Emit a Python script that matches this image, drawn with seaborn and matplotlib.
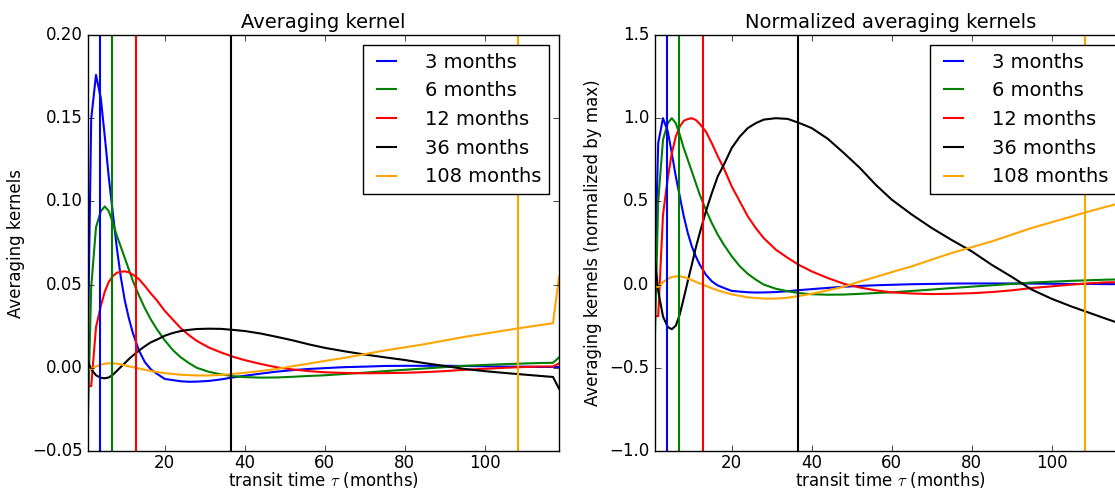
"""Averaging kernels for several averaging periods, raw and normalized by max."""

import matplotlib

matplotlib.use("Agg")
import matplotlib.pyplot as plt
import numpy as np
import pandas as pd
import seaborn as sns

plt.style.use("classic")

# transit time grid (months)
tau = [0.8, 1.6, 2.8, 4.0, 5.0, 6.0, 7.0, 8.0, 9.0, 10.0, 11.0, 12.0, 13.5, 15.0,
       16.5, 18.0, 20.0, 22.0, 24.0, 26.0, 28.0, 31.0, 34.0, 37.0, 40.0, 44.0,
       48.0, 52.0, 56.0, 60.0, 65.0, 70.0, 75.0, 80.0, 85.0, 90.0, 95.0, 100.0,
       105.0, 110.0, 114.0, 117.1, 118.6]

periods = ["3 months", "6 months", "12 months", "36 months", "108 months"]
colors = ["blue", "green", "red", "black", "orange"]
# where each period's vertical marker sits on the tau axis
marker_tau = [3.75, 6.75, 12.75, 36.6, 108.25]

k_3 = [0.0176, 0.1496, 0.176, 0.162, 0.139, 0.1144, 0.0933, 0.0722, 0.0546,
       0.0405, 0.0299, 0.0211, 0.0106, 0.0035, -0.0009, -0.0035, -0.0067,
       -0.0074, -0.0081, -0.0084, -0.0083, -0.0079, -0.007, -0.0058, -0.0048,
       -0.0035, -0.0023, -0.0014, -0.0007, -0.0002, 0.0004, 0.0007, 0.0011,
       0.0012, 0.0012, 0.0012, 0.0011, 0.0009, 0.0007, 0.0007, 0.0005, 0.0005,
       0.0005]
k_6 = [-0.0281, 0.0485, 0.0844, 0.0941, 0.097, 0.0941, 0.0873, 0.0795, 0.0728,
       0.066, 0.0592, 0.0524, 0.0437, 0.0359, 0.0291, 0.0233, 0.0165, 0.0107,
       0.0063, 0.0029, 0.0, -0.0024, -0.0039, -0.005, -0.0056, -0.0059, -0.0058,
       -0.0054, -0.0049, -0.0045, -0.0037, -0.0029, -0.002, -0.0012, -0.0004,
       0.0004, 0.0012, 0.0017, 0.0022, 0.0026, 0.0029, 0.003, 0.0062]
k_12 = [-0.011, -0.011, 0.0244, 0.0371, 0.0458, 0.0516, 0.0551, 0.0571, 0.0577,
        0.058, 0.0574, 0.056, 0.0534, 0.0493, 0.0447, 0.0406, 0.0342, 0.029,
        0.0238, 0.0197, 0.0162, 0.0122, 0.0093, 0.0067, 0.0046, 0.0023, 0.0003,
        -0.001, -0.002, -0.0027, -0.0031, -0.0033, -0.0032, -0.003, -0.0026,
        -0.002, -0.0012, -0.0006, 0.0, 0.0005, 0.0008, 0.0008, 0.0026]
k_36 = [0.0035, -0.0009, -0.0045, -0.006, -0.0063, -0.0058, -0.0042, -0.0019,
        0.0005, 0.0028, 0.0052, 0.0073, 0.0103, 0.0129, 0.0153, 0.0169, 0.0193,
        0.0209, 0.0221, 0.0228, 0.0233, 0.0235, 0.0234, 0.0228, 0.0221, 0.0206,
        0.0186, 0.0165, 0.0141, 0.012, 0.0099, 0.008, 0.0063, 0.0047, 0.0028,
        0.0011, -0.0007, -0.002, -0.0031, -0.0041, -0.0049, -0.0055, -0.0125]
k_108 = [-0.0005, -0.0008, 0.0008, 0.0019, 0.0025, 0.0027, 0.0027, 0.0025,
         0.002, 0.0015, 0.0009, 0.0004, -0.0004, -0.0012, -0.0019, -0.0025,
         -0.0032, -0.0037, -0.0042, -0.0044, -0.0046, -0.0046, -0.0043, -0.0037,
         -0.003, -0.0019, -0.0007, 0.001, 0.0025, 0.0041, 0.006, 0.0082, 0.0104,
         0.0123, 0.0142, 0.0164, 0.0186, 0.0205, 0.0224, 0.0243, 0.0257, 0.0268,
         0.0547]

kernels = [k_3, k_6, k_12, k_36, k_108]

frames = []
for name, k in zip(periods, kernels):
    k = np.asarray(k)
    frames.append(pd.DataFrame({"tau": tau, "kernel": k, "normed": k / k.max(),
                                "period": name}))
df = pd.concat(frames, ignore_index=True)

fig = plt.figure(figsize=(11.15, 4.91), dpi=100)
W, H = 1115.0, 491.0
ax1 = fig.add_axes([88 / W, 40 / H, 471 / W, 416 / H])
ax2 = fig.add_axes([655 / W, 40 / H, 471 / W, 416 / H])

panels = [
    (ax1, "kernel", "Averaging kernel", "Averaging kernels", (-0.05, 0.20)),
    (ax2, "normed", "Normalized averaging kernels",
     "Averaging kernels (normalized by max)", (-1.0, 1.5)),
]

for ax, col, title, ylabel, ylim in panels:
    for name, c in zip(periods, colors):
        sub = df[df["period"] == name]
        sns.lineplot(data=sub, x="tau", y=col, color=c, lw=1.5, label=name,
                     estimator=None, ax=ax)
    for m, c in zip(marker_tau, colors):
        ax.axvline(m, color=c, lw=1.5)
    ax.set_xlim(0.8, 118.6)
    ax.set_ylim(*ylim)
    ax.set_xticks([20, 40, 60, 80, 100])
    ax.tick_params(axis="x", pad=2)
    ax.set_title(title, fontsize=14)
    ax.set_xlabel(r"transit time $\tau$ (months)", fontsize=12, labelpad=-1)
    ax.set_ylabel(ylabel, fontsize=12)
    ax.legend(loc="upper right", fontsize=14, handlelength=1.6,
              handletextpad=1.2)

ax1.set_yticks([-0.05, 0.0, 0.05, 0.10, 0.15, 0.20])
ax2.set_yticks([-1.0, -0.5, 0.0, 0.5, 1.0, 1.5])

fig.savefig("out.png", dpi=100)
